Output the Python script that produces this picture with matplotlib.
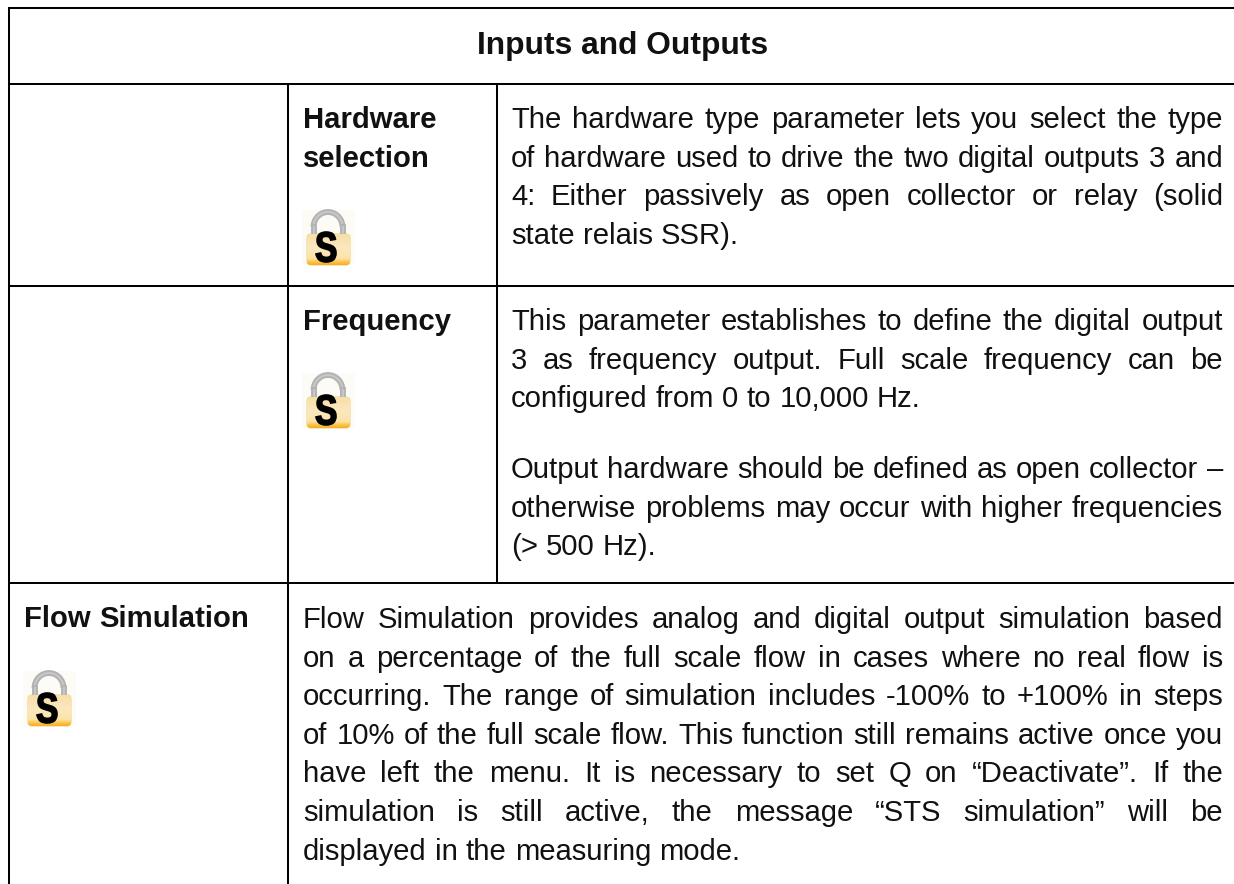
#!/usr/bin/env python3
# Table page from a manual, drawn as lines and justified text.
import numpy as np
import matplotlib
matplotlib.use("Agg")
import matplotlib.pyplot as plt
from matplotlib.colors import LinearSegmentedColormap
from matplotlib.font_manager import FontProperties
from matplotlib.patches import FancyBboxPatch, Rectangle, Arc, PathPatch
from matplotlib.path import Path
from matplotlib.textpath import TextPath
from matplotlib.transforms import Affine2D

W, H = 1234, 884
FONT = "Liberation Sans"
SIZE = 21.05
TITLE_SIZE = 22.9
STEP = 38.6

title = "Inputs and Outputs"

hardware_head = ["Hardware", "selection"]
hardware_body = [
    "The hardware type parameter lets you select the type",
    "of hardware used to drive the two digital outputs 3 and",
    "4: Either passively as open collector or relay (solid",
    "state relais SSR).",
]
frequency_head = ["Frequency"]
frequency_body = [
    "This parameter establishes to define the digital output",
    "3 as frequency output. Full scale frequency can be",
    "configured from 0 to 10,000 Hz.",
]
frequency_note = [
    "Output hardware should be defined as open collector –",
    "otherwise problems may occur with higher frequencies",
    "(> 500 Hz).",
]
flow_head = ["Flow Simulation"]
flow_body = [
    "Flow Simulation provides analog and digital output simulation based",
    "on a percentage of the full scale flow in cases where no real flow is",
    "occurring. The range of simulation includes -100% to +100% in steps",
    "of 10% of the full scale flow. This function still remains active once you",
    "have left the menu. It is necessary to set Q on “Deactivate”. If the",
    "simulation is still active, the message “STS simulation” will be",
    "displayed in the measuring mode.",
]

fig = plt.figure(figsize=(W / 100, H / 100), dpi=100)
ax = fig.add_axes([0, 0, 1, 1])
ax.set_xlim(0, W)
ax.set_ylim(H, 0)
ax.axis("off")
renderer = fig.canvas.get_renderer()

body_cmap = LinearSegmentedColormap.from_list(
    "lock_body",
    [(0, "#f8dfa8"), (0.45, "#fbe8c0"), (0.8, "#fbe3a8"), (0.92, "#fbc443"), (1, "#f7ae2b")],
)


def rule(x0, y0, x1, y1):
    ax.plot([x0, x1], [y0, y1], color="black", lw=1.45, solid_capstyle="projecting")


def word_width(s, bold=False):
    t = ax.text(0, 0, s, family=FONT, fontsize=SIZE, weight="bold" if bold else "normal")
    w = t.get_window_extent(renderer).width
    t.remove()
    return w


def draw_block(lines, x0, x1, y, justify=True, bold=False):
    space = word_width("a b", bold) - word_width("ab", bold)
    for i, line in enumerate(lines):
        words = line.split(" ")
        widths = [word_width(w, bold) for w in words]
        last = i == len(lines) - 1
        gap = space
        if justify and not last and len(words) > 1:
            gap = (x1 - x0 - sum(widths)) / (len(words) - 1)
        x = x0
        for w, wd in zip(words, widths):
            ax.text(x, y + i * STEP, w, family=FONT, fontsize=SIZE, color="#111111",
                    weight="bold" if bold else "normal", va="baseline", ha="left")
            x += wd + gap


def lock(x, y):
    # x, y = top left of the icon, about 53 x 55 px
    ax.add_patch(Rectangle((x, y), 53, 55, fc="#fdfbf6", ec="none"))
    # shackle, grey with a soft lighter core
    for lw, col in [(4.2, "#b2b2b2"), (1.4, "#c8c8c8")]:
        ax.add_patch(Arc((x + 26, y + 17), 29, 30, theta1=180, theta2=360, color=col, lw=lw))
        ax.plot([x + 11.5, x + 11.5], [y + 17, y + 27], color=col, lw=lw)
        ax.plot([x + 40.5, x + 40.5], [y + 17, y + 27], color=col, lw=lw)
    # body with vertical gradient
    box = FancyBboxPatch((x + 5, y + 24), 43, 31, boxstyle="round,pad=0,rounding_size=4",
                         fc="none", ec="#f3d48a", lw=0.8)
    ax.add_patch(box)
    grad = np.linspace(0, 1, 32).reshape(-1, 1)
    im = ax.imshow(grad, cmap=body_cmap, extent=(x + 5, x + 48, y + 55, y + 24),
                   aspect="auto", zorder=2)
    im.set_clip_path(box)
    # heavy stretched S
    tp = TextPath((0, 0), "S", size=30, prop=FontProperties(family=FONT, weight="bold"))
    bb = tp.get_extents()
    tr = (Affine2D().translate(-bb.x0, -bb.y0).scale(20 / bb.width, -30 / bb.height)
          .translate(x + 14, y + 52))
    ax.add_patch(PathPatch(Path(tr.transform(tp.vertices), tp.codes), fc="black", ec="black",
                           lw=1.2, zorder=3))


# table rules, the right side runs off the page with no border
rule(9, 8, W + 5, 8)
rule(9, 84, W + 5, 84)
rule(9, 286, W + 5, 286)
rule(9, 583, W + 5, 583)
rule(9, 8, 9, H + 5)
rule(288, 84, 288, H + 5)
rule(497, 84, 497, 583)

ax.text(623, 54, title, family=FONT, fontsize=TITLE_SIZE, weight="bold", color="#111111",
        ha="center", va="baseline")

draw_block(hardware_head, 303, 480, 128, justify=False, bold=True)
lock(302, 210)
draw_block(hardware_body, 511, 1223, 128)

draw_block(frequency_head, 303, 480, 330, justify=False, bold=True)
lock(302, 373)
draw_block(frequency_body, 511, 1223, 330)
draw_block(frequency_note, 511, 1223, 478)

draw_block(flow_head, 24, 270, 627, justify=False, bold=True)
lock(23, 671)
draw_block(flow_body, 303, 1223, 628)

ax.set_xlim(0, W)
ax.set_ylim(H, 0)
fig.savefig("out.png", dpi=100)
